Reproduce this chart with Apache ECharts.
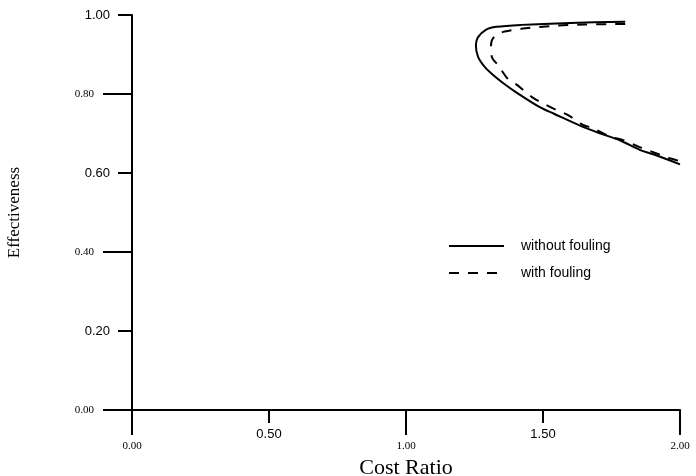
<!DOCTYPE html>
<html>
<head>
<meta charset="utf-8">
<script src="https://cdn.jsdelivr.net/npm/echarts@6/dist/echarts.min.js"></script>
<style>
  html, body { margin: 0; padding: 0; background: #fff; }
  #chart { width: 696px; height: 476px; }
</style>
</head>
<body>
<div id="chart"></div>
<script type="text/javascript">
// 数据
var solidX = [1.80, 1.60, 1.42, 1.33, 1.29, 1.263, 1.255, 1.263, 1.288, 1.318, 1.354, 1.405, 1.49, 1.54, 1.635, 1.71, 1.78, 1.855, 1.90, 2.00];
var solidY = [0.983, 0.980, 0.975, 0.970, 0.962, 0.944, 0.924, 0.894, 0.868, 0.848, 0.828, 0.803, 0.766, 0.750, 0.720, 0.700, 0.683, 0.658, 0.648, 0.622];
var dashX = [1.80, 1.65, 1.53, 1.42, 1.36, 1.33, 1.313, 1.310, 1.315, 1.336, 1.372, 1.405, 1.46, 1.49, 1.55, 1.59, 1.646, 1.68, 1.75, 1.79, 1.85, 1.89, 1.96, 2.00];
var dashY = [0.977, 0.976, 0.972, 0.965, 0.958, 0.950, 0.935, 0.912, 0.891, 0.873, 0.838, 0.823, 0.792, 0.780, 0.759, 0.747, 0.722, 0.714, 0.691, 0.684, 0.666, 0.656, 0.638, 0.630];

// 刻度
var xMajorTicks = [0, 1, 2];
var xMinorTicks = [0.5, 1.5];
var yMajorTicks = [0, 0.4, 0.8];
var yMinorTicks = [0.2, 0.6, 1.0];

var seriesNames = ['without fouling', 'with fouling'];

function pairs(xs, ys) {
    var out = [];
    for (var i = 0; i < xs.length; i++) out.push([xs[i], ys[i]]);
    return out;
}
function fmt(v) { return v.toFixed(2); }

var serif = 'Liberation Serif';
var sans = 'Liberation Sans';

var chart = echarts.init(document.getElementById('chart'));

var option = {
    animation: false,
    backgroundColor: '#fff',
    grid: { left: 132, right: 16, top: 15, bottom: 66, containLabel: false, outerBoundsMode: 'none' },
    legend: {
        orient: 'vertical',
        left: 448,
        top: 239,
        padding: 0,
        itemWidth: 55,
        itemHeight: 14,
        itemGap: 13,
        data: seriesNames,
        itemStyle: { opacity: 0 },
        textStyle: { fontFamily: sans, fontSize: 14, color: '#000', padding: [0, 0, 0, 12] }
    },
    xAxis: [{
        type: 'value', min: 0, max: 2, interval: 1,
        name: 'Cost Ratio', nameLocation: 'middle', nameGap: 45,
        nameTextStyle: { fontFamily: serif, fontSize: 22, color: '#000' },
        axisLine: { onZero: false, lineStyle: { color: '#000', width: 2 } },
        axisTick: { length: 25, lineStyle: { color: '#000', width: 2 }, customValues: xMajorTicks },
        axisLabel: { margin: 31, fontFamily: serif, fontSize: 11, color: '#000', formatter: fmt, customValues: xMajorTicks },
        splitLine: { show: false }
    }, {
        type: 'value', min: 0, max: 2, interval: 0.5, position: 'bottom',
        axisLine: { show: false },
        axisTick: { length: 13, lineStyle: { color: '#000', width: 2 }, customValues: xMinorTicks },
        axisLabel: { margin: 18, fontFamily: sans, fontSize: 13, color: '#000', formatter: fmt, customValues: xMinorTicks },
        splitLine: { show: false }
    }],
    yAxis: [{
        type: 'value', min: 0, max: 1, interval: 0.2,
        name: 'Effectiveness', nameLocation: 'middle', nameGap: 109, nameRotate: 90,
        nameTextStyle: { fontFamily: serif, fontSize: 17, color: '#000' },
        axisLine: { show: true, onZero: false, lineStyle: { color: '#000', width: 2 } },
        axisTick: { length: 29, lineStyle: { color: '#000', width: 2 }, customValues: yMajorTicks },
        axisLabel: { margin: 38, fontFamily: serif, fontSize: 11, color: '#000', formatter: fmt, customValues: yMajorTicks },
        splitLine: { show: false }
    }, {
        type: 'value', min: 0, max: 1, interval: 0.2, position: 'left',
        axisLine: { show: false },
        axisTick: { show: true, length: 14, lineStyle: { color: '#000', width: 2 }, customValues: yMinorTicks },
        axisLabel: { margin: 22, fontFamily: sans, fontSize: 13, color: '#000', formatter: fmt, customValues: yMinorTicks },
        splitLine: { show: false }
    }],
    series: [{
        name: seriesNames[0],
        type: 'line',
        smooth: 0.3,
        symbol: 'none',
        data: pairs(solidX, solidY),
        lineStyle: { color: '#000', width: 2, type: 'solid' },
        itemStyle: { color: '#000' }
    }, {
        name: seriesNames[1],
        type: 'line',
        smooth: 0.3,
        symbol: 'none',
        data: pairs(dashX, dashY),
        lineStyle: { color: '#000', width: 2, type: [10, 9] },
        itemStyle: { color: '#000' }
    }]
};

chart.setOption(option);
</script>
</body>
</html>
